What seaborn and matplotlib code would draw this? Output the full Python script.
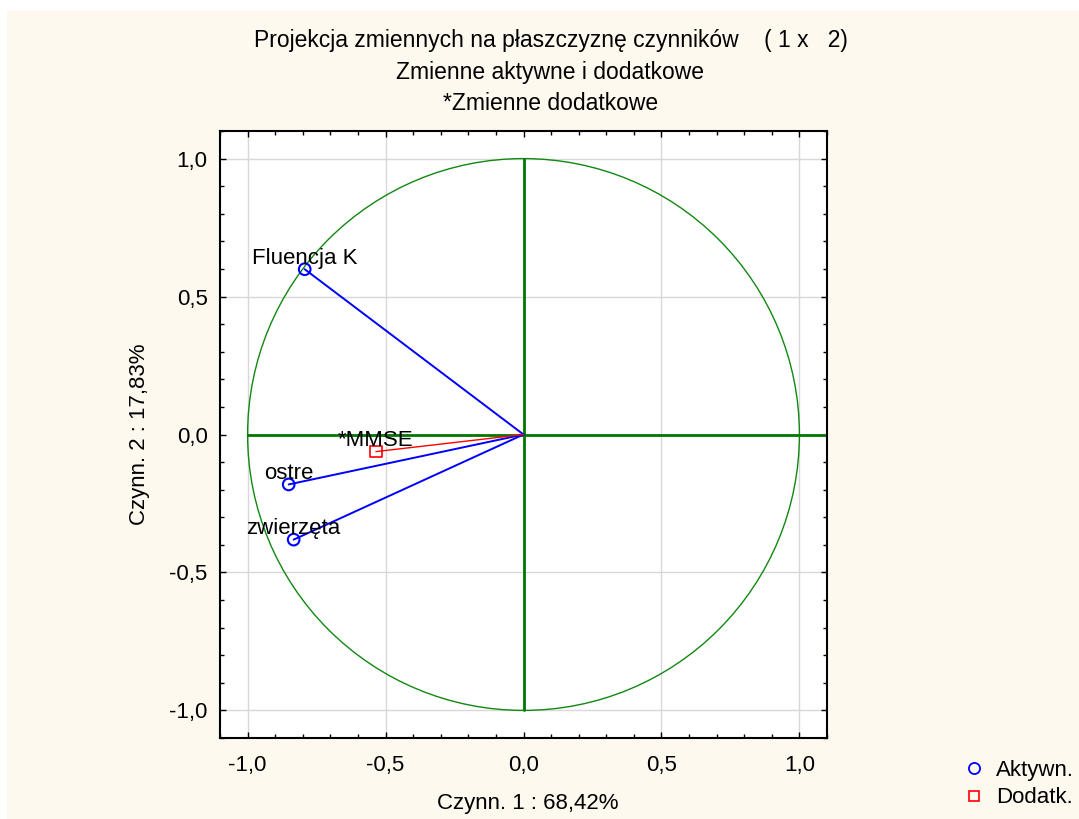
import numpy as np
import pandas as pd
import matplotlib
matplotlib.use("Agg")
import matplotlib.pyplot as plt
from matplotlib.patches import Circle, Rectangle
from matplotlib.ticker import MultipleLocator, FuncFormatter
from matplotlib.lines import Line2D
import seaborn as sns

# ---- data ----
names = ["Fluencja K", "ostre", "zwierzęta", "*MMSE"]
factor1 = [-0.793, -0.851, -0.833, -0.535]
factor2 = [0.599, -0.181, -0.381, -0.062]
kinds = ["Aktywn.", "Aktywn.", "Aktywn.", "Dodatk."]
title_lines = ["Projekcja zmiennych na płaszczyznę czynników    ( 1 x   2)",
               "Zmienne aktywne i dodatkowe",
               "*Zmienne dodatkowe"]
xlabel = "Czynn. 1 : 68,42%"
ylabel = "Czynn. 2 : 17,83%"

df = pd.DataFrame({"name": names, "f1": factor1, "f2": factor2, "kind": kinds})

sns.set_style("white")
plt.rcParams["font.family"] = ["Liberation Sans", "DejaVu Sans"]
plt.rcParams["text.color"] = "black"
plt.rcParams["axes.labelcolor"] = "black"
plt.rcParams["xtick.color"] = "black"
plt.rcParams["ytick.color"] = "black"

FS = 16
bg = "#FDF9EF"
fig = plt.figure(figsize=(10.79, 8.19), dpi=100, facecolor="white")
fig.patches.append(Rectangle((7 / 1079, 0), 1, 1 - 11 / 819, transform=fig.transFigure,
                             facecolor=bg, edgecolor="none", zorder=-10))
ax = fig.add_axes([220 / 1079, 1 - 738 / 819, 607 / 1079, 607 / 819])
ax.set_facecolor("white")

# grid
for v in [-1.0, -0.5, 0.5, 1.0]:
    ax.axvline(v, color="#d8d8d8", lw=1.0, zorder=0)
    ax.axhline(v, color="#d8d8d8", lw=1.0, zorder=0)

# unit circle and axes
ax.add_patch(Circle((0, 0), 1.0, fill=False, edgecolor="#118811", lw=1.0, zorder=1))
ax.plot([-1, 1.1], [0, 0], color="#007700", lw=2.0, zorder=1)
ax.plot([0, 0], [-1, 1], color="#007700", lw=2.0, zorder=1)

# vectors
colors = {"Aktywn.": "#0000FF", "Dodatk.": "#FF0000"}
for _, r in df.iterrows():
    ax.plot([0, r.f1], [0, r.f2], color=colors[r.kind],
            lw=1.4 if r.kind == "Aktywn." else 1.0, zorder=2)

sns.scatterplot(data=df[df.kind == "Aktywn."], x="f1", y="f2", ax=ax, marker="o", s=70,
                facecolor="none", edgecolor="#0000FF", linewidth=1.5, zorder=3, legend=False)
sns.scatterplot(data=df[df.kind == "Dodatk."], x="f1", y="f2", ax=ax, marker="s", s=70,
                facecolor="none", edgecolor="#FF0000", linewidth=1.2, zorder=3, legend=False)

for _, r in df.iterrows():
    ax.annotate(r["name"], (r.f1, r.f2), xytext=(0, 4), textcoords="offset points",
                ha="center", va="baseline", fontsize=FS, color="black", zorder=4)

# ticks
fmt = FuncFormatter(lambda v, p: f"{v:.1f}".replace(".", ",").replace("-0,0", "0,0"))
for a in (ax.xaxis, ax.yaxis):
    a.set_major_locator(MultipleLocator(0.5))
    a.set_minor_locator(MultipleLocator(0.1))
    a.set_major_formatter(fmt)
ax.tick_params(which="major", direction="in", length=4, width=1, labelsize=FS,
               top=True, right=True, bottom=True, left=True,
               labeltop=False, labelright=False, colors="black")
ax.tick_params(which="minor", direction="in", length=3, width=1,
               top=True, right=True, bottom=True, left=True, colors="black")
ax.tick_params(axis="x", which="major", pad=12)
ax.tick_params(axis="y", which="major", pad=9)
ax.set_xlim(-1.1, 1.1)
ax.set_ylim(-1.1, 1.1)

for s in ax.spines.values():
    s.set_color("black")
    s.set_linewidth(1.5)

ax.set_xlabel(xlabel, fontsize=FS, va="center", color="black")
ax.xaxis.set_label_coords(0.5066, -(803 - 738) / 607)
ax.set_ylabel(ylabel, fontsize=FS, va="center", color="black")
ax.yaxis.set_label_coords(-(220 - 140) / 607, 0.5)

for i, t in enumerate(title_lines):
    fig.text(0.5 * (253 + 848) / 1079, 1 - (41 + 31.5 * i) / 819, t, ha="center", va="center",
             fontsize=16.5, color="black")

handles = [Line2D([], [], marker="o", ls="none", mfc="none", mec="#0000FF", ms=8, mew=1.3),
           Line2D([], [], marker="s", ls="none", mfc="none", mec="#FF0000", ms=7, mew=1.2)]
leg = fig.legend(handles, ["Aktywn.", "Dodatk."], loc="center left",
                 bbox_to_anchor=(952 / 1079, 1 - 784 / 819), frameon=False, fontsize=FS,
                 handletextpad=0.4, labelspacing=0.3, handlelength=1.2, borderaxespad=0)
for t in leg.get_texts():
    t.set_color("black")

fig.savefig("out.png", dpi=100, facecolor=fig.get_facecolor())
